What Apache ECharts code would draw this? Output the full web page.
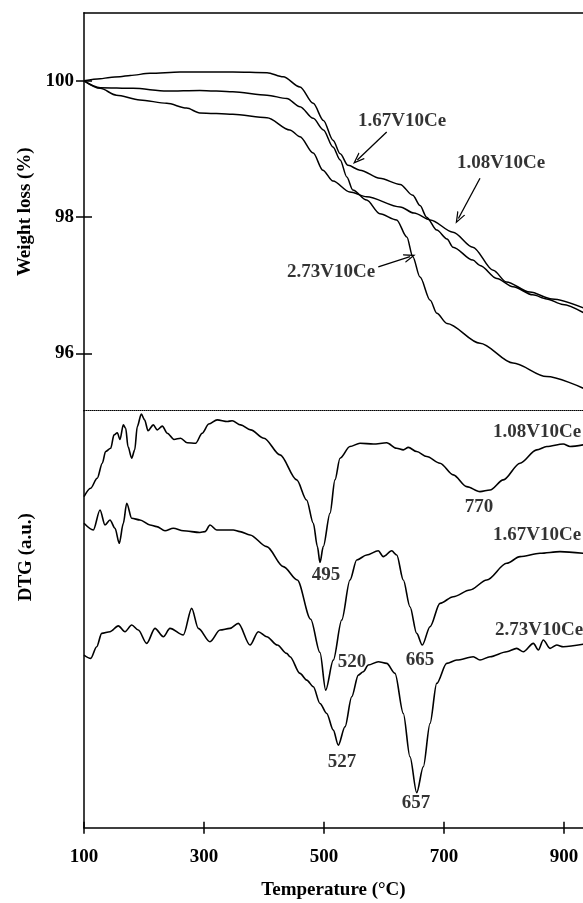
<!DOCTYPE html>
<html>
<head>
<meta charset="utf-8">
<script src="https://cdn.jsdelivr.net/npm/echarts@6/dist/echarts.min.js"></script>
<style>html,body{margin:0;padding:0;background:#fff}#c{width:583px;height:903px}</style>
</head>
<body>
<div id="c"></div>
<script>
// ---------- data ----------
const xTicks = [100, 300, 500, 700, 900];
const wTicks = [96, 98, 100];

// TGA weight (%) vs temperature (°C)
const tga108 = [[100,100.00],[127,99.89],[154,99.79],[193,99.72],[238,99.67],[271,99.60],[293,99.53],[348,99.51],[405,99.46],[443,99.28],[460,99.18],[482,98.94],[498,98.69],[515,98.53],[543,98.37],[571,98.30],[627,98.15],[650,98.06],[677,97.96],[715,97.78],[748,97.56],[782,97.22],[804,97.05],[843,96.90],[880,96.80],[932,96.67]];
const tga167 = [[100,100.00],[127,100.03],[143,100.05],[160,100.06],[177,100.08],[210,100.11],[260,100.13],[348,100.13],[405,100.12],[432,100.06],[460,99.91],[482,99.67],[499,99.42],[515,99.13],[527,98.93],[540,98.76],[560,98.69],[593,98.57],[627,98.48],[648,98.32],[660,98.17],[671,98.00],[688,97.81],[705,97.68],[715,97.56],[748,97.37],[760,97.29],[788,97.10],[815,96.98],[848,96.86],[871,96.80],[898,96.72],[932,96.60]];
const tga273 = [[100,100.00],[127,99.90],[182,99.89],[238,99.85],[293,99.86],[348,99.84],[405,99.79],[438,99.74],[460,99.62],[482,99.45],[499,99.28],[515,99.03],[527,98.84],[538,98.59],[548,98.40],[571,98.25],[593,98.05],[621,97.96],[638,97.71],[648,97.42],[660,97.12],[677,96.78],[688,96.59],[705,96.44],[760,96.15],[815,95.86],[871,95.66],[932,95.49]];

// DTG (a.u.) vs temperature (°C)
const dtg108 = [[100,79.4],[111,81.4],[122,83.8],[130.5,87.4],[136,90.2],[144.5,91.0],[150,94.2],[155.5,94.7],[160,93.1],[165.5,96.6],[169.5,95.8],[173.3,91.4],[179.5,88.6],[184.5,90.6],[188.8,96.2],[195.5,99.2],[201,97.8],[206.7,95.2],[215.5,96.6],[222,95.4],[230.5,96.3],[238.8,94.6],[250,93.1],[261,93.4],[272,92.3],[286,92.2],[297,94.6],[308,96.8],[322,97.8],[338.8,97.4],[347,97.6],[361,96.6],[377.8,95.4],[400,93.4],[426.7,89.4],[454.5,83.4],[471,78.6],[482.2,73.0],[489,67.4],[493.3,63.6],[498.8,67.4],[510,75.4],[518.3,83.4],[526.7,88.6],[543.3,91.4],[560,92.2],[582.2,92.0],[604.5,92.3],[621,91.0],[632.2,90.6],[640.5,91.2],[654.5,90.2],[671.2,89.0],[693.3,87.4],[715.5,84.6],[737.8,81.8],[760,80.6],[776.7,81.0],[798.8,83.4],[826.7,87.4],[854.5,90.6],[871.2,91.4],[898.8,92.0],[910,91.4],[932,91.8]];
const dtg167 = [[100,73.0],[115.5,71.4],[126.7,76.2],[135,72.6],[143.3,73.8],[151.7,71.8],[158.8,68.2],[165.5,73.0],[171.2,77.8],[179.5,74.2],[193.3,73.8],[210,72.6],[221.2,72.2],[235,71.2],[248.8,71.8],[265.5,71.2],[293.3,70.8],[301.7,71.0],[310,72.6],[321.2,71.4],[348.8,71.4],[360,71.0],[376.7,70.2],[404.5,67.4],[432.2,62.6],[455.5,59.4],[477.8,50.0],[493.3,42.0],[502.8,33.0],[515.5,40.2],[529.5,49.8],[543.3,59.4],[554.5,64.2],[571.2,65.4],[590.5,66.4],[598.8,65.0],[612.8,66.4],[621.2,65.4],[632.2,59.4],[643.3,53.0],[654.5,46.6],[663.8,43.8],[676.7,48.2],[693.3,53.8],[715.5,55.4],[743.3,57.0],[771.2,59.4],[804.5,63.4],[826.7,65.0],[860,65.8],[893.3,66.2],[932,65.8]];
const dtg273 = [[100,41.4],[111.2,40.6],[121.2,43.4],[129.5,46.6],[143.3,47.0],[157.2,48.4],[168.3,47.0],[179.5,48.6],[190.5,47.4],[204.5,44.2],[218.3,47.8],[232.2,45.8],[243.3,47.8],[265.5,46.2],[279.5,52.6],[290.5,47.8],[310,44.6],[326.7,47.4],[343.3,47.8],[357.2,49.0],[376.7,43.8],[390.5,47.0],[404.5,45.8],[422.2,43.8],[437.8,41.8],[443.3,41.0],[460,37.0],[471.2,35.4],[482.2,33.8],[493.3,29.8],[504.5,27.4],[515.5,23.4],[523.8,19.8],[535,24.2],[546.2,31.4],[557.2,36.6],[565.5,37.4],[573.8,39.0],[590.5,39.8],[604.5,39.4],[618.3,37.0],[632.2,27.4],[643.3,17.0],[654.5,8.4],[665.5,14.6],[676.7,25.0],[687.8,34.6],[704.5,39.4],[721.2,40.2],[748.8,41.0],[760,40.2],[776.7,41.0],[804.5,42.2],[821.2,43.0],[832.2,42.2],[849,44.2],[857.2,42.6],[865.5,45.0],[876.7,43.0],[887.8,43.8],[898.8,43.4],[932,44.0]];

// annotation texts and anchors (data coordinates)
const tgaLabels = [['1.67V10Ce', 630, 99.41], ['1.08V10Ce', 795, 98.79], ['2.73V10Ce', 511.7, 97.20]];
const tgaArrows = [[[604.5, 99.25], [555.5, 98.84]], [[760, 98.57], [724, 97.98]], [[590.5, 97.27], [643.3, 97.42]]];
const dtgSampleLabels = [['1.08V10Ce', 781.7, 94.96], ['1.67V10Ce', 781.7, 70.2], ['2.73V10Ce', 785, 47.4]];
const dtgPeakLabels = [['495', 503.3, 60.6], ['770', 758.3, 76.9], ['520', 546.7, 39.7], ['665', 660, 40.2], ['527', 530, 15.8], ['657', 653.3, 5.9]];

// ---------- chart ----------
const FONT = '"Liberation Serif", "Times New Roman", serif';
const txt = { fontFamily: FONT, fontWeight: 'bold', fontSize: 19, color: '#000' };
const PLOT_W = 499;
const X_MIN = 100, X_MAX = 100 + PLOT_W / 0.6;
const chart = echarts.init(document.getElementById('c'));
const chevron = 'path://M5,0 L10,12 L8.6,12 L5,3.6 L1.4,12 L0,12 Z';

function lineSeries(data, xi, yi, w) {
  return { type: 'line', data: data, xAxisIndex: xi, yAxisIndex: yi, symbol: 'none', smooth: 0.3, smoothMonotone: 'x',
    lineStyle: { color: '#000', width: w }, silent: true };
}

const option = {
  animation: false,
  backgroundColor: '#fff',
  grid: [
    { left: 84, top: 12.7, width: PLOT_W, height: 398 },
    { left: 84, top: 410.7, width: PLOT_W, height: 417 }
  ],
  xAxis: [
    { gridIndex: 0, type: 'value', min: X_MIN, max: X_MAX, position: 'bottom',
      axisLine: { lineStyle: { color: '#000', type: 'dotted', width: 1 } },
      axisTick: { show: false }, axisLabel: { show: false }, splitLine: { show: false } },
    { gridIndex: 0, type: 'value', min: X_MIN, max: X_MAX, position: 'top',
      axisLine: { lineStyle: { color: '#000', width: 1.5 } },
      axisTick: { show: false }, axisLabel: { show: false }, splitLine: { show: false } },
    { gridIndex: 1, type: 'value', min: X_MIN, max: X_MAX, position: 'bottom',
      axisLine: { lineStyle: { color: '#000', width: 1.5 } },
      axisTick: { show: true, inside: false, length: 6, customValues: xTicks, lineStyle: { color: '#000', width: 1.5 } },
      axisLabel: Object.assign({ customValues: xTicks, margin: 20 }, txt),
      name: 'Temperature (°C)', nameLocation: 'middle', nameGap: 53, nameTextStyle: txt,
      splitLine: { show: false } },
    { gridIndex: 1, type: 'value', min: X_MIN, max: X_MAX, position: 'bottom',
      axisLine: { show: false },
      axisTick: { show: true, inside: true, length: 6, customValues: xTicks, lineStyle: { color: '#000', width: 1.5 } },
      axisLabel: { show: false }, splitLine: { show: false } }
  ],
  yAxis: [
    { gridIndex: 0, type: 'value', min: 95.16, max: 101.0, position: 'left',
      axisLine: { show: true, lineStyle: { color: '#000', width: 1.5 } },
      axisTick: { show: true, inside: false, length: 8, customValues: wTicks, lineStyle: { color: '#000', width: 1.5 } },
      axisLabel: Object.assign({ customValues: wTicks, margin: 10 }, txt),
      name: 'Weight loss (%)', nameLocation: 'middle', nameGap: 48, nameTextStyle: txt,
      splitLine: { show: false } },
    { gridIndex: 0, type: 'value', min: 95.16, max: 101.0, position: 'left',
      axisLine: { show: false },
      axisTick: { show: true, inside: true, length: 8, customValues: wTicks, lineStyle: { color: '#000', width: 1.5 } },
      axisLabel: { show: false }, splitLine: { show: false } },
    { gridIndex: 1, type: 'value', min: 0, max: 100, position: 'left',
      axisLine: { show: true, lineStyle: { color: '#000', width: 1.5 } },
      axisTick: { show: false }, axisLabel: { show: false },
      name: 'DTG (a.u.)', nameLocation: 'middle', nameGap: 48,
      nameTextStyle: Object.assign({ padding: [0, 0, 0, 124] }, txt),
      splitLine: { show: false } }
  ],
  series: [
    lineSeries(tga108, 0, 0, 1.5),
    lineSeries(tga167, 0, 0, 1.5),
    lineSeries(tga273, 0, 0, 1.5),
    lineSeries(dtg108, 2, 2, 1.6),
    lineSeries(dtg167, 2, 2, 1.6),
    lineSeries(dtg273, 2, 2, 1.6),
    { type: 'scatter', xAxisIndex: 0, yAxisIndex: 0, symbolSize: 0, silent: true,
      data: tgaLabels.map(d => ({ name: d[0], value: [d[1], d[2]] })),
      label: Object.assign({ show: true, position: 'inside', formatter: '{b}' }, txt),
      markLine: { silent: true, symbol: ['none', chevron], symbolSize: [9, 12],
        label: { show: false }, lineStyle: { color: '#000', width: 1.3, type: 'solid' },
        emphasis: { disabled: true },
        data: tgaArrows.map(a => [{ coord: a[0] }, { coord: a[1] }]) } },
    { type: 'scatter', xAxisIndex: 2, yAxisIndex: 2, symbolSize: 0, silent: true,
      data: dtgSampleLabels.map(d => ({ name: d[0], value: [d[1], d[2]] })),
      label: Object.assign({ show: true, position: 'right', distance: 0, formatter: '{b}' }, txt) },
    { type: 'scatter', xAxisIndex: 2, yAxisIndex: 2, symbolSize: 0, silent: true,
      data: dtgPeakLabels.map(d => ({ name: d[0], value: [d[1], d[2]] })),
      label: Object.assign({ show: true, position: 'inside', formatter: '{b}' }, txt) }
  ]
};
chart.setOption(option);
</script>
</body>
</html>
